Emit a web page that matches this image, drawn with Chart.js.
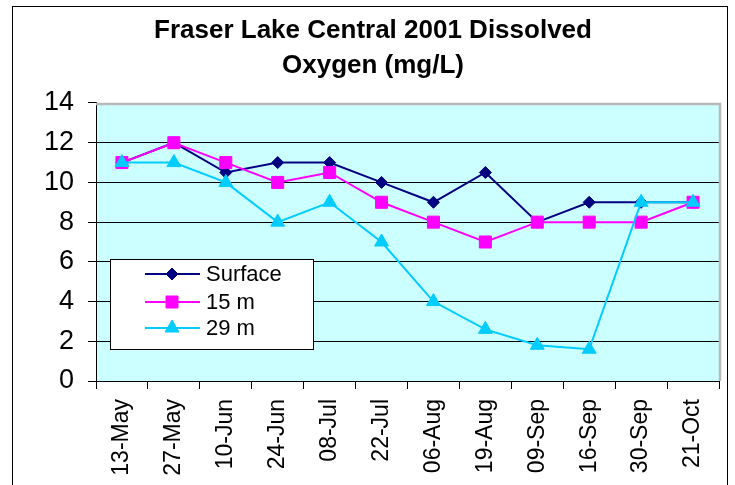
<!DOCTYPE html>
<html>
<head>
<meta charset="utf-8">
<script src="https://cdn.jsdelivr.net/npm/chart.js@4/dist/chart.umd.min.js"></script>
<style>
  html, body { margin: 0; padding: 0; background: #fff; }
  #wrap { width: 735px; height: 485px; }
</style>
</head>
<body>
<div id="wrap"><canvas id="c" width="735" height="485"></canvas></div>
<script>
const categories = ['13-May','27-May','10-Jun','24-Jun','08-Jul','22-Jul','06-Aug','19-Aug','09-Sep','16-Sep','30-Sep','21-Oct'];
const surface = [11, 12, 10.5, 11, 11, 10, 9, 10.5, 8, 9, 9, 9];
const m15 = [11, 12, 11, 10, 10.5, 9, 8, 7, 8, 8, 8, 9];
const m29 = [11, 11, 10, 8, 9, 7, 4, 2.6, 1.8, 1.6, 9, 9];
const titleLines = ['Fraser Lake Central 2001 Dissolved', 'Oxygen (mg/L)'];
const yMin = 0, yMax = 14, yStep = 2;

const FONT = '"Liberation Sans", Arial, sans-serif';

const decor = {
  id: 'decor',
  beforeDraw(chart) {
    const ctx = chart.ctx, a = chart.chartArea;
    ctx.save();
    ctx.fillStyle = '#ffffff';
    ctx.fillRect(0, 0, chart.width, chart.height);
    ctx.fillStyle = '#CCFFFF';
    ctx.fillRect(a.left, a.top, a.right - a.left, a.bottom - a.top);
    ctx.strokeStyle = '#000';
    ctx.lineWidth = 1;
    ctx.strokeRect(12.5, 6.5, 715, 600);
    ctx.restore();
  },
  beforeDatasetsDraw(chart) {
    const ctx = chart.ctx, a = chart.chartArea;
    ctx.save();
    ctx.strokeStyle = '#B8B8B8';
    ctx.lineWidth = 2.5;
    ctx.beginPath();
    ctx.moveTo(a.left, a.top + 1);
    ctx.lineTo(a.right + 1, a.top + 1);
    ctx.lineTo(a.right + 1, a.bottom);
    ctx.stroke();
    ctx.restore();
  },
  afterDraw(chart) {
    const ctx = chart.ctx;
    ctx.save();
    const bx = 110.5, by = 259.5, bw = 203, bh = 90;
    ctx.fillStyle = '#fff';
    ctx.fillRect(bx, by, bw, bh);
    ctx.strokeStyle = '#000';
    ctx.lineWidth = 1;
    ctx.strokeRect(bx, by, bw, bh);
    const rows = [274, 302, 328];
    chart.data.datasets.forEach((ds, i) => {
      const y = rows[i];
      ctx.strokeStyle = ds.borderColor;
      ctx.lineWidth = ds.borderWidth;
      ctx.beginPath();
      ctx.moveTo(145, y);
      ctx.lineTo(200, y);
      ctx.stroke();
      ctx.fillStyle = ds.pointBackgroundColor;
      ctx.strokeStyle = ds.pointBorderColor;
      ctx.lineWidth = 1;
      Chart.helpers.drawPoint(ctx, {pointStyle: ds.pointStyle, radius: ds.pointRadius, rotation: 0, borderWidth: 1}, 172, y);
      ctx.fillStyle = '#000';
      ctx.font = '22px ' + FONT;
      ctx.textBaseline = 'middle';
      ctx.textAlign = 'left';
      ctx.fillText(ds.label, 206, y + 1);
    });
    ctx.restore();
  }
};

function mk(label, data, color, style, radius, order) {
  return {
    label, data, order,
    borderColor: color, backgroundColor: color,
    pointBackgroundColor: color, pointBorderColor: color,
    borderWidth: 2, pointStyle: style, pointRadius: radius, pointHoverRadius: radius,
    pointBorderWidth: 1, tension: 0, fill: false
  };
}

new Chart(document.getElementById('c'), {
  type: 'line',
  data: {
    labels: categories,
    datasets: [
      mk('Surface', surface, '#000080', 'rectRot', 6, 3),
      mk('15 m', m15, '#FF00FF', 'rect', 8.5, 2),
      mk('29 m', m29, '#00CCFF', 'triangle', 8, 1)
    ]
  },
  options: {
    responsive: false,
    animation: false,
    events: [],
    layout: { padding: { left: 27, right: 16, top: 0, bottom: 0 } },
    plugins: {
      legend: { display: false },
      tooltip: { enabled: false },
      title: {
        display: true,
        text: titleLines,
        color: '#000',
        font: { family: FONT, size: 26, weight: 'bold', lineHeight: 1.346 },
        padding: { top: 13, bottom: 20 }
      }
    },
    scales: {
      x: {
        type: 'category',
        offset: true,
        grid: { offset: true, drawOnChartArea: false, drawTicks: true, tickLength: 8, color: '#000', tickColor: '#000' },
        border: { display: true, color: '#000', width: 1 },
        ticks: { color: '#000', font: { family: FONT, size: 23 }, minRotation: 90, maxRotation: 90, padding: 10, autoSkip: false },
        afterFit(s) { s.height = 104; }
      },
      y: {
        min: yMin, max: yMax,
        grid: {
          color: (c) => (c.tick && c.tick.value === yMax) ? 'rgba(0,0,0,0)' : '#000',
          tickColor: '#000', tickLength: 8, lineWidth: 1, drawTicks: true
        },
        border: { display: true, color: '#000', width: 1 },
        ticks: { stepSize: yStep, color: '#000', font: { family: FONT, size: 27 }, padding: 14 },
        afterFit(s) { s.width = 69; }
      }
    }
  },
  plugins: [decor]
});
</script>
</body>
</html>
